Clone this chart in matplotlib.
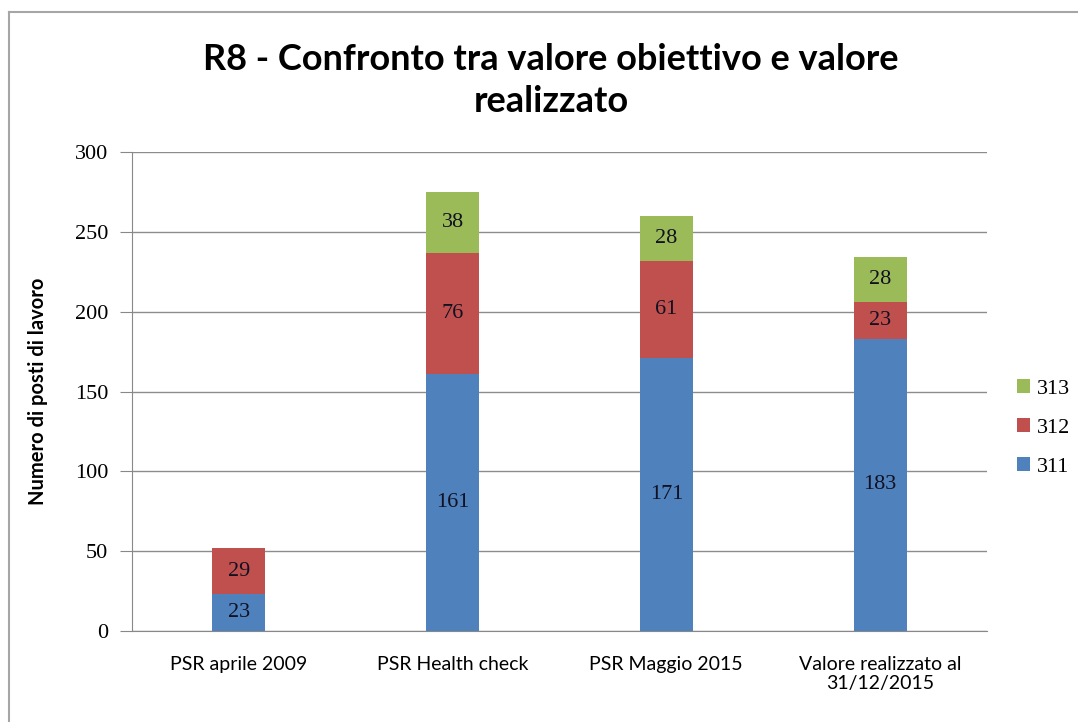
import matplotlib.pyplot as plt
import numpy as np

# data
categories = ['PSR aprile 2009', 'PSR Health check', 'PSR Maggio 2015',
              'Valore realizzato al\n31/12/2015']
s311 = [23, 161, 171, 183]
s312 = [29, 76, 61, 23]
s313 = [0, 38, 28, 28]
series_names = ['311', '312', '313']
colors = ['#4F81BD', '#C0504D', '#9BBB59']

plt.rcParams['font.family'] = ['Lato', 'DejaVu Sans']
num_font = 'Liberation Serif'

fig = plt.figure(figsize=(10.78, 7.22), dpi=100)
ax = fig.add_axes([0.1224, 0.126, 0.7931, 0.6635])

x = np.arange(len(categories))
bottom = np.zeros(len(categories))
bars = []
for vals, name, col in zip([s311, s312, s313], series_names, colors):
    b = ax.bar(x, vals, 0.248, bottom=bottom, color=col, label=name, zorder=3)
    bars.append(b)
    for xi, v, bt in zip(x, vals, bottom):
        if v > 0:
            ax.text(xi, bt + v / 2, str(v), ha='center', va='center',
                    fontsize=16, color='#111122', family=num_font, zorder=4)
    bottom = bottom + np.array(vals)

ax.set_xlim(-0.5, 3.5)
ax.set_ylim(0, 300)
ax.set_yticks(range(0, 301, 50))
ax.set_xticks(x)
ax.set_xticklabels(categories, fontsize=14, linespacing=1.15)
ax.set_yticklabels([str(v) for v in range(0, 301, 50)], fontsize=16, family=num_font)
ax.tick_params(axis='y', length=9, color='#888888', pad=8)
ax.tick_params(axis='x', length=0, pad=18)
ax.grid(axis='y', color='#8c8c8c', linewidth=1, zorder=0)
for s in ['top', 'right']:
    ax.spines[s].set_visible(False)
for s in ['left', 'bottom']:
    ax.spines[s].set_color('#888888')
ax.set_ylabel('Numero di posti di lavoro', fontsize=14.5, fontweight='bold')
ax.yaxis.set_label_coords(-0.098, 0.5)

handles = [bars[2], bars[1], bars[0]]
leg = ax.legend(handles, ['313', '312', '311'], loc='center left',
                bbox_to_anchor=(1.035, 0.424), frameon=False, borderaxespad=0,
                borderpad=0, prop={'family': num_font, 'size': 16},
                handlelength=0.6, handleheight=0.6, labelspacing=0.85, handletextpad=0.3)

fig.text(0.511, 0.918, 'R8 - Confronto tra valore obiettivo e valore', ha='center',
         va='center', fontsize=26, fontweight='bold')
fig.text(0.511, 0.860, 'realizzato', ha='center', va='center',
         fontsize=26, fontweight='bold')

# chart border (top and left visible)
fig.add_artist(plt.Line2D([0.0084, 1.0], [0.983, 0.983], color='#a6a6a6', lw=1.5))
fig.add_artist(plt.Line2D([0.0084, 0.0084], [0.0, 0.983], color='#a6a6a6', lw=1.5))

fig.savefig('out.png', dpi=100)
